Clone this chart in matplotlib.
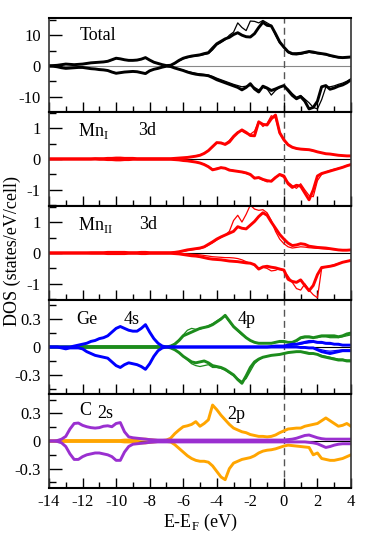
import numpy as np
import matplotlib
matplotlib.use("Agg")
import matplotlib.pyplot as plt
from matplotlib.ticker import MultipleLocator

plt.rcParams['font.family'] = ['Liberation Serif', 'DejaVu Serif']
plt.rcParams['mathtext.fontset'] = 'custom'
plt.rcParams['mathtext.rm'] = 'Liberation Serif'
plt.rcParams['axes.unicode_minus'] = False

# energy grid, -14 .. 4 eV in 0.25 eV steps (73 points)
energy = np.linspace(-14, 4, 73)

# ---- Total (black) ----
tot_up = [0.0, 0.1, 0.2, 0.4, 0.6, 0.5, 0.4, 0.5,
          0.6, 0.8, 1.0, 1.1, 1.2, 1.3, 1.5, 2.0,
          2.5, 2.3, 2.0, 1.8, 1.8, 1.9, 2.2, 2.7,
          1.9, 1.2, 0.8, 0.4, 0.1, 0.2, 0.9, 1.8,
          2.5, 2.9, 3.2, 3.4, 3.6, 4.0, 4.3, 5.8,
          7.2, 8.0, 8.8, 9.3, 10.2, 10.8, 10.0, 9.5,
          9.4, 10.5, 12.5, 14.2, 13.2, 13.0, 10.5, 7.8,
          6.1, 4.6, 4.0, 4.0, 4.1, 4.4, 4.7, 4.5,
          4.2, 4.0, 3.8, 3.4, 3.1, 2.8, 2.7, 2.8,
          2.9]
tot_up_b = [0.0, 0.1, 0.2, 0.4, 0.5, 0.5, 0.4, 0.5,
            0.6, 0.8, 0.9, 1.1, 1.2, 1.3, 1.5, 1.9,
            2.4, 2.3, 2.0, 1.8, 1.8, 1.9, 2.2, 2.6,
            1.9, 1.2, 0.8, 0.4, 0.1, 0.2, 0.8, 1.6,
            2.3, 2.7, 3.0, 3.2, 3.4, 3.7, 4.0, 5.2,
            6.8, 7.6, 8.5, 10.0, 11.0, 14.0, 12.5, 11.5,
            14.6, 14.5, 14.0, 14.8, 14.0, 13.2, 10.0, 7.5,
            6.0, 4.3, 3.7, 3.6, 3.8, 4.1, 4.4, 4.2,
            4.0, 3.8, 3.6, 3.2, 2.9, 2.7, 2.6, 2.7,
            2.8]
tot_dn = [0.0, -0.1, -0.3, -0.6, -0.8, -0.7, -0.6, -0.5,
          -0.5, -0.7, -0.9, -1.0, -1.2, -1.3, -1.5, -2.0,
          -2.4, -2.2, -2.0, -1.9, -1.8, -1.9, -2.2, -2.5,
          -1.6, -1.1, -0.8, -0.4, -0.1, -0.2, -0.7, -1.1,
          -1.5, -2.0, -2.4, -2.7, -2.9, -3.0, -3.2, -3.8,
          -4.5, -5.0, -5.5, -6.0, -6.5, -7.0, -7.8, -7.0,
          -5.8, -7.5, -8.5, -6.6, -7.2, -8.0, -7.5, -6.9,
          -6.4, -8.0, -9.6, -10.7, -10.0, -11.5, -14.0, -13.5,
          -11.5, -6.8, -6.4, -7.6, -7.2, -6.6, -6.2, -5.5,
          -4.5]
tot_dn_b = [0.0, -0.1, -0.3, -0.6, -0.7, -0.7, -0.6, -0.5,
            -0.5, -0.7, -0.9, -1.0, -1.1, -1.3, -1.5, -1.9,
            -2.3, -2.2, -2.0, -1.9, -1.8, -1.9, -2.2, -2.4,
            -1.6, -1.1, -0.8, -0.4, -0.1, -0.2, -0.6, -1.0,
            -1.4, -1.8, -2.1, -2.4, -2.6, -2.8, -3.0, -3.4,
            -4.0, -4.5, -5.0, -5.5, -6.0, -6.4, -6.8, -6.6,
            -6.4, -7.0, -7.8, -7.0, -7.5, -9.5, -8.0, -7.0,
            -6.5, -7.5, -9.0, -10.2, -9.6, -10.8, -12.0, -13.5,
            -14.0, -11.0, -6.9, -6.8, -6.5, -6.0, -5.6, -5.0,
            -4.2]

# ---- Mn_I 3d (red) ----
mn1_up = [0, 0, 0, 0, 0, 0, 0, 0,
          0.0, 0.0, 0.0, 0.01, 0.01, 0.01, 0.02, 0.02,
          0.03, 0.03, 0.02, 0.02, 0.02, 0.01, 0.01, 0.01,
          0.01, 0.01, 0.01, 0.01, 0.01, 0.01, 0.02, 0.03,
          0.04, 0.05, 0.07, 0.09, 0.12, 0.18, 0.27, 0.40,
          0.53, 0.52, 0.47, 0.55, 0.72, 0.85, 0.94, 0.86,
          0.76, 0.75, 1.20, 1.12, 1.10, 1.30, 1.42, 0.85,
          0.62, 0.46, 0.38, 0.34, 0.32, 0.31, 0.30, 0.27,
          0.23, 0.20, 0.17, 0.16, 0.14, 0.12, 0.11, 0.10,
          0.10]
mn1_up_b = [0, 0, 0, 0, 0, 0, 0, 0,
            0.0, 0.0, 0.0, 0.01, 0.01, 0.01, 0.02, 0.02,
            0.03, 0.03, 0.02, 0.02, 0.02, 0.01, 0.01, 0.01,
            0.01, 0.01, 0.01, 0.01, 0.01, 0.01, 0.02, 0.03,
            0.04, 0.05, 0.07, 0.10, 0.13, 0.19, 0.28, 0.42,
            0.52, 0.50, 0.50, 0.60, 0.76, 0.88, 0.90, 0.82,
            0.80, 0.90, 1.22, 1.05, 1.15, 1.40, 1.32, 0.82,
            0.60, 0.45, 0.37, 0.33, 0.31, 0.30, 0.29, 0.26,
            0.23, 0.20, 0.17, 0.16, 0.14, 0.12, 0.11, 0.10,
            0.10]
mn1_dn = [0, 0, 0, 0, 0, 0, 0, 0,
          0, 0, 0, 0, -0.01, -0.01, -0.02, -0.02,
          -0.03, -0.03, -0.02, -0.02, -0.01, -0.01, -0.01, -0.01,
          -0.01, -0.01, -0.01, -0.01, -0.01, -0.01, -0.02, -0.03,
          -0.05, -0.06, -0.08, -0.10, -0.13, -0.18, -0.25, -0.35,
          -0.32, -0.28, -0.30, -0.36, -0.38, -0.40, -0.42, -0.45,
          -0.50, -0.62, -0.60, -0.66, -0.70, -0.72, -0.60, -0.50,
          -0.55, -0.80, -0.92, -0.85, -0.88, -1.10, -1.32, -1.00,
          -0.55, -0.47, -0.43, -0.39, -0.35, -0.31, -0.27, -0.22,
          -0.18]
mn1_dn_b = [0, 0, 0, 0, 0, 0, 0, 0,
            0, 0, 0, 0, -0.01, -0.01, -0.02, -0.02,
            -0.03, -0.03, -0.02, -0.02, -0.01, -0.01, -0.01, -0.01,
            -0.01, -0.01, -0.01, -0.01, -0.01, -0.01, -0.02, -0.03,
            -0.04, -0.05, -0.07, -0.09, -0.12, -0.17, -0.24, -0.33,
            -0.30, -0.27, -0.30, -0.34, -0.37, -0.40, -0.43, -0.47,
            -0.52, -0.60, -0.62, -0.68, -0.74, -0.70, -0.58, -0.52,
            -0.60, -0.75, -0.86, -0.95, -0.80, -1.00, -1.18, -1.22,
            -0.70, -0.50, -0.42, -0.37, -0.33, -0.30, -0.26, -0.21,
            -0.17]

# ---- Mn_II 3d (red) ----
mn2_up = [0, 0, 0, 0, 0, 0, 0, 0,
          0.0, 0.0, 0.01, 0.01, 0.01, 0.01, 0.02, 0.02,
          0.02, 0.02, 0.02, 0.01, 0.01, 0.01, 0.02, 0.02,
          0.01, 0.01, 0.01, 0.01, 0.01, 0.01, 0.02, 0.04,
          0.07, 0.10, 0.12, 0.14, 0.16, 0.20, 0.28, 0.36,
          0.45, 0.52, 0.58, 0.64, 0.70, 0.85, 0.80, 0.78,
          0.90, 1.02, 1.18, 1.30, 1.22, 1.00, 0.80, 0.60,
          0.45, 0.32, 0.24, 0.26, 0.30, 0.28, 0.22, 0.20,
          0.18, 0.17, 0.16, 0.14, 0.12, 0.10, 0.09, 0.09,
          0.10]
mn2_up_b = [0, 0, 0, 0, 0, 0, 0, 0,
            0.0, 0.0, 0.01, 0.01, 0.01, 0.01, 0.02, 0.02,
            0.02, 0.02, 0.02, 0.01, 0.01, 0.01, 0.02, 0.02,
            0.01, 0.01, 0.01, 0.01, 0.01, 0.01, 0.02, 0.03,
            0.05, 0.08, 0.10, 0.12, 0.14, 0.18, 0.25, 0.33,
            0.42, 0.50, 0.58, 0.70, 1.05, 1.22, 1.00, 1.25,
            1.55, 1.42, 1.38, 1.40, 1.30, 1.05, 0.70, 0.45,
            0.30, 0.20, 0.16, 0.18, 0.20, 0.19, 0.17, 0.16,
            0.15, 0.14, 0.13, 0.12, 0.11, 0.10, 0.09, 0.09,
            0.10]
mn2_dn = [0, 0, 0, 0, 0, 0, 0, 0,
          0, 0, -0.01, -0.01, -0.01, -0.01, -0.02, -0.02,
          -0.02, -0.02, -0.02, -0.01, -0.01, -0.01, -0.02, -0.02,
          -0.01, -0.01, -0.01, -0.01, -0.01, -0.01, -0.02, -0.03,
          -0.05, -0.07, -0.09, -0.10, -0.12, -0.15, -0.18, -0.20,
          -0.21, -0.22, -0.24, -0.26, -0.27, -0.28, -0.30, -0.32,
          -0.33, -0.38, -0.52, -0.45, -0.43, -0.46, -0.48, -0.52,
          -0.55, -0.85, -0.92, -0.95, -0.87, -1.05, -1.22, -1.05,
          -0.70, -0.47, -0.45, -0.43, -0.40, -0.35, -0.30, -0.27,
          -0.24]
mn2_dn_b = [0, 0, 0, 0, 0, 0, 0, 0,
            0, 0, -0.01, -0.01, -0.01, -0.01, -0.02, -0.02,
            -0.02, -0.02, -0.02, -0.01, -0.01, -0.01, -0.02, -0.02,
            -0.01, -0.01, -0.01, -0.01, -0.01, -0.01, -0.01, -0.02,
            -0.02, -0.03, -0.04, -0.05, -0.06, -0.08, -0.10, -0.12,
            -0.13, -0.14, -0.15, -0.15, -0.16, -0.18, -0.22, -0.28,
            -0.33, -0.40, -0.50, -0.46, -0.50, -0.58, -0.56, -0.50,
            -0.58, -0.75, -0.95, -1.15, -1.20, -1.00, -1.20, -1.35,
            -1.45, -0.50, -0.45, -0.42, -0.38, -0.34, -0.30, -0.27,
            -0.23]

# ---- Ge 4s (blue) / 4p (green) ----
ge_s_up = [0.0, 0.0, 0.0, 0.0, 0.0, 0.0, 0.01, 0.02,
           0.03, 0.04, 0.06, 0.07, 0.09, 0.10, 0.12, 0.16,
           0.20, 0.22, 0.20, 0.18, 0.17, 0.17, 0.20, 0.24,
           0.16, 0.09, 0.04, 0.01, 0.0, 0.0, 0.0, 0.0,
           0, 0, 0, 0, 0, 0, 0, 0,
           0, 0, 0, 0, 0, 0, 0, 0,
           0.0, 0.0, 0.0, 0.0, 0.0, 0.005, 0.01, 0.01,
           0.01, 0.02, 0.03, 0.03, 0.04, 0.05, 0.06, 0.06,
           0.05, 0.05, 0.04, 0.04, 0.03, 0.03, 0.02, 0.02,
           0.02]
ge_s_up_b = [0.0, 0.0, 0.0, 0.0, 0.0, 0.0, 0.01, 0.02,
             0.03, 0.04, 0.06, 0.07, 0.09, 0.10, 0.12, 0.16,
             0.20, 0.22, 0.20, 0.18, 0.17, 0.17, 0.20, 0.24,
             0.16, 0.09, 0.04, 0.01, 0.0, 0.0, 0.0, 0.0,
             0, 0, 0, 0, 0, 0, 0, 0,
             0, 0, 0, 0, 0, 0, 0, 0,
             0.0, 0.0, 0.0, 0.0, 0.0, 0.005, 0.005, 0.01,
             0.01, 0.015, 0.02, 0.025, 0.03, 0.04, 0.045, 0.05,
             0.045, 0.04, 0.035, 0.03, 0.03, 0.025, 0.02, 0.02,
             0.02]
ge_s_dn = [0.0, 0.0, 0.0, -0.01, -0.02, -0.01, -0.01, -0.01,
           -0.02, -0.05, -0.07, -0.09, -0.10, -0.11, -0.12, -0.16,
           -0.20, -0.22, -0.19, -0.17, -0.18, -0.19, -0.21, -0.24,
           -0.18, -0.10, -0.04, -0.01, 0.0, 0.0, 0.0, 0.0,
           0, 0, 0, 0, 0, 0, 0, 0,
           0, 0, 0, 0, 0, 0, 0, 0,
           0, 0, 0, 0, 0, 0, 0, 0,
           0.0, 0.0, 0.0, 0.0, -0.005, -0.005, -0.01, -0.01,
           -0.03, -0.05, -0.06, -0.07, -0.06, -0.05, -0.04, -0.04,
           -0.04]
ge_s_dn_b = [0.0, 0.0, 0.0, -0.01, -0.02, -0.01, -0.01, -0.01,
             -0.02, -0.05, -0.07, -0.09, -0.10, -0.11, -0.12, -0.16,
             -0.20, -0.22, -0.19, -0.17, -0.18, -0.19, -0.21, -0.24,
             -0.18, -0.10, -0.04, -0.01, 0.0, 0.0, 0.0, 0.0,
             0, 0, 0, 0, 0, 0, 0, 0,
             0, 0, 0, 0, 0, 0, 0, 0,
             0, 0, 0, 0, 0, 0, 0, 0,
             0.0, 0.0, 0.0, 0.0, -0.005, -0.005, -0.01, -0.015,
             -0.02, -0.03, -0.04, -0.045, -0.04, -0.035, -0.03, -0.03,
             -0.03]
ge_p_up = [0, 0, 0, 0, 0, 0, 0, 0,
           0.005, 0.005, 0.005, 0.005, 0.005, 0.005, 0.005, 0.005,
           0.005, 0.005, 0.005, 0.005, 0.005, 0.005, 0.005, 0.005,
           0.005, 0.005, 0.005, 0.005, 0.0, 0.01, 0.03, 0.07,
           0.12, 0.14, 0.16, 0.18, 0.20, 0.21, 0.22, 0.24,
           0.27, 0.30, 0.34, 0.28, 0.22, 0.18, 0.14, 0.10,
           0.07, 0.05, 0.04, 0.04, 0.04, 0.04, 0.05, 0.06,
           0.06, 0.05, 0.05, 0.07, 0.10, 0.11, 0.11, 0.10,
           0.11, 0.12, 0.12, 0.12, 0.12, 0.11, 0.12, 0.14,
           0.15]
ge_p_up_b = [0, 0, 0, 0, 0, 0, 0, 0,
             0.005, 0.005, 0.005, 0.005, 0.005, 0.005, 0.005, 0.005,
             0.005, 0.005, 0.005, 0.005, 0.005, 0.005, 0.005, 0.005,
             0.005, 0.005, 0.005, 0.005, 0.0, 0.01, 0.04, 0.08,
             0.13, 0.18, 0.20, 0.19, 0.19, 0.21, 0.23, 0.25,
             0.28, 0.31, 0.33, 0.27, 0.21, 0.17, 0.13, 0.10,
             0.07, 0.05, 0.04, 0.04, 0.04, 0.04, 0.05, 0.05,
             0.05, 0.05, 0.05, 0.06, 0.09, 0.10, 0.10, 0.10,
             0.10, 0.11, 0.11, 0.10, 0.10, 0.10, 0.11, 0.12,
             0.13]
ge_p_dn = [0, 0, 0, 0, 0, 0, 0, 0,
           -0.005, -0.005, -0.005, -0.005, -0.005, -0.005, -0.005, -0.005,
           -0.005, -0.005, -0.005, -0.005, -0.005, -0.005, -0.005, -0.005,
           -0.005, -0.005, -0.005, -0.005, 0.0, -0.01, -0.03, -0.06,
           -0.10, -0.13, -0.16, -0.17, -0.16, -0.15, -0.17, -0.20,
           -0.21, -0.22, -0.24, -0.27, -0.30, -0.35, -0.39, -0.31,
           -0.22, -0.16, -0.13, -0.11, -0.10, -0.09, -0.085, -0.08,
           -0.07, -0.06, -0.055, -0.05, -0.05, -0.06, -0.07, -0.07,
           -0.08, -0.10, -0.11, -0.12, -0.13, -0.14, -0.14, -0.15,
           -0.15]
ge_p_dn_b = [0, 0, 0, 0, 0, 0, 0, 0,
             -0.005, -0.005, -0.005, -0.005, -0.005, -0.005, -0.005, -0.005,
             -0.005, -0.005, -0.005, -0.005, -0.005, -0.005, -0.005, -0.005,
             -0.005, -0.005, -0.005, -0.005, 0.0, -0.01, -0.03, -0.06,
             -0.10, -0.14, -0.18, -0.20, -0.21, -0.20, -0.19, -0.22,
             -0.22, -0.23, -0.25, -0.28, -0.31, -0.34, -0.37, -0.34,
             -0.26, -0.18, -0.14, -0.11, -0.10, -0.09, -0.085, -0.08,
             -0.07, -0.06, -0.05, -0.05, -0.05, -0.055, -0.06, -0.07,
             -0.075, -0.09, -0.10, -0.11, -0.12, -0.13, -0.13, -0.14,
             -0.14]

# ---- C 2s (purple) / 2p (orange) ----
c_s_up = [0.0, 0.0, 0.005, 0.02, 0.05, 0.13, 0.19, 0.195,
          0.17, 0.155, 0.145, 0.14, 0.145, 0.16, 0.165, 0.155,
          0.19, 0.20, 0.10, 0.045, 0.035, 0.03, 0.025, 0.02,
          0.015, 0.012, 0.01, 0.01, 0.01, 0.01, 0.01, 0.01,
          0.01, 0.01, 0.01, 0.01, 0.01, 0.01, 0.01, 0.01,
          0.01, 0.01, 0.01, 0.01, 0.01, 0.01, 0.01, 0.01,
          0.01, 0.01, 0.01, 0.01, 0.01, 0.01, 0.01, 0.01,
          0.01, 0.015, 0.02, 0.03, 0.045, 0.06, 0.065, 0.05,
          0.035, 0.025, 0.02, 0.02, 0.02, 0.02, 0.02, 0.02,
          0.02]
c_s_dn = [0.0, 0.0, -0.005, -0.02, -0.06, -0.14, -0.20, -0.20,
          -0.17, -0.15, -0.14, -0.13, -0.13, -0.14, -0.15, -0.17,
          -0.21, -0.21, -0.12, -0.06, -0.035, -0.03, -0.025, -0.02,
          -0.015, -0.012, -0.01, -0.01, -0.01, -0.01, -0.01, -0.01,
          -0.01, -0.01, -0.01, -0.01, -0.01, -0.01, -0.01, -0.01,
          -0.01, -0.01, -0.01, -0.01, -0.01, -0.01, -0.01, -0.01,
          -0.01, -0.01, -0.01, -0.01, -0.01, -0.01, -0.01, -0.01,
          -0.01, -0.01, -0.01, -0.01, -0.01, -0.01, -0.015, -0.02,
          -0.03, -0.05, -0.07, -0.06, -0.045, -0.035, -0.03, -0.03,
          -0.03]
c_p_up = [0.0, 0.0, 0.0, 0.005, 0.005, 0.005, 0.005, 0.005,
          0.005, 0.005, 0.005, 0.005, 0.005, 0.005, 0.005, 0.005,
          0.005, 0.005, 0.01, 0.01, 0.01, 0.015, 0.02, 0.02,
          0.015, 0.01, 0.005, 0.005, 0.01, 0.03, 0.08, 0.12,
          0.155, 0.165, 0.18, 0.21, 0.16, 0.19, 0.23, 0.39,
          0.34, 0.28, 0.23, 0.18, 0.14, 0.12, 0.10, 0.09,
          0.07, 0.06, 0.05, 0.05, 0.045, 0.05, 0.065, 0.09,
          0.11, 0.13, 0.135, 0.14, 0.14, 0.16, 0.17, 0.18,
          0.19, 0.22, 0.25, 0.22, 0.19, 0.16, 0.17, 0.19,
          0.16]
c_p_dn = [0.0, 0.0, 0.0, -0.005, -0.005, -0.005, -0.005, -0.005,
          -0.005, -0.005, -0.005, -0.005, -0.005, -0.005, -0.005, -0.005,
          -0.005, -0.005, -0.01, -0.01, -0.01, -0.015, -0.02, -0.02,
          -0.015, -0.01, -0.005, -0.005, -0.005, -0.01, -0.04, -0.08,
          -0.12, -0.16, -0.19, -0.21, -0.22, -0.22, -0.23, -0.27,
          -0.33, -0.39, -0.42, -0.30, -0.24, -0.22, -0.20, -0.19,
          -0.18, -0.16, -0.13, -0.11, -0.10, -0.095, -0.085, -0.07,
          -0.055, -0.045, -0.05, -0.055, -0.06, -0.065, -0.07, -0.15,
          -0.13, -0.19, -0.20, -0.21, -0.21, -0.20, -0.19, -0.17,
          -0.15]

RED = '#ff0000'
BLUE = '#0000ff'
GREEN = '#1c8c1c'
PURPLE = '#9a2fd0'
ORANGE = '#ffa500'
THICK = 2.1
THIN = 0.9

panels = [
    dict(ylim=(-15.0, 15.6), major=10, minor=5, zero='#888888',
         lines=[(tot_up_b, 'black', THIN), (tot_dn_b, 'black', THIN),
                (tot_up, 'black', THICK), (tot_dn, 'black', THICK)],
         labels=[('Total', -12.15, 10.0)]),
    dict(ylim=(-1.52, 1.52), major=1, minor=0.5, zero='black',
         lines=[(mn1_up_b, RED, THIN), (mn1_dn_b, RED, THIN),
                (mn1_up, RED, THICK), (mn1_dn, RED, THICK)],
         labels=[('Mn$_\\mathregular{I}$', -12.25, 0.92), ('3d', -8.7, 0.92)]),
    dict(ylim=(-1.52, 1.52), major=1, minor=0.5, zero='black',
         lines=[(mn2_up_b, RED, THIN), (mn2_dn_b, RED, THIN),
                (mn2_up, RED, THICK), (mn2_dn, RED, THICK)],
         labels=[('Mn$_\\mathregular{II}$', -12.25, 0.92), ('3d', -8.6, 0.92)]),
    dict(ylim=(-0.505, 0.505), major=0.3, minor=0.15, zero='black',
         lines=[(ge_p_up_b, GREEN, THIN), (ge_p_dn_b, GREEN, THIN),
                (ge_p_up, GREEN, THICK), (ge_p_dn, GREEN, THICK),
                (ge_s_up_b, BLUE, THIN), (ge_s_dn_b, BLUE, THIN),
                (ge_s_up, BLUE, THICK), (ge_s_dn, BLUE, THICK)],
         labels=[('Ge', -12.35, 0.3), ('4s', -9.55, 0.3), ('4p', -2.75, 0.3)]),
    dict(ylim=(-0.51, 0.51), major=0.3, minor=0.15, zero='black',
         lines=[(c_p_up, ORANGE, THICK), (c_p_dn, ORANGE, THICK),
                (c_s_up, PURPLE, THICK), (c_s_dn, PURPLE, THICK)],
         labels=[('C', -12.2, 0.33), ('2s', -11.1, 0.3), ('2p', -3.35, 0.29)]),
]

fig, axes = plt.subplots(5, 1, sharex=True, figsize=(3.74, 5.40), dpi=100)
fig.subplots_adjust(left=0.131, right=0.9385, top=0.9667, bottom=0.0963, hspace=0)

for ax, p in zip(axes, panels):
    ax.axhline(0, color=p['zero'], lw=0.8, zorder=1)
    ax.axvline(0, color='#555555', lw=1.0, ls=(0, (5, 3)), zorder=1)
    for vals, col, lw in p['lines']:
        ax.plot(energy, vals, color=col, lw=lw, zorder=2)
    for txt, x, y in p['labels']:
        ax.text(x, y, txt, fontsize=13, ha='left', va='center')
    ax.set_ylim(*p['ylim'])
    ax.yaxis.set_major_locator(MultipleLocator(p['major']))
    ax.yaxis.set_minor_locator(MultipleLocator(p['minor']))
    ax.set_xlim(-14, 4)
    ax.xaxis.set_major_locator(MultipleLocator(2))
    ax.xaxis.set_minor_locator(MultipleLocator(1))
    ax.tick_params(axis='y', which='major', direction='in', length=9.5, width=1.0,
                   labelsize=12, pad=6, right=False)
    ax.tick_params(axis='y', which='minor', direction='in', length=5, width=1.0, right=False)
    ax.tick_params(axis='x', which='major', direction='in', length=7, width=1.0,
                   labelsize=12, pad=4, top=False)
    ax.tick_params(axis='x', which='minor', direction='in', length=4, width=1.0, top=False)
    for side in ['top', 'bottom']:
        ax.spines[side].set_linewidth(1.5)
    for side in ['left', 'right']:
        ax.spines[side].set_linewidth(1.2)
        ax.spines[side].set_color('#333333')

axes[0].set_yticks([-10, 0, 10])
axes[0].set_yticklabels(['-10', '0', '10'])
for ax in axes[1:3]:
    ax.set_yticks([-1, 0, 1])
    ax.set_yticklabels(['-1', '0', '1'])
for ax in axes[3:]:
    ax.set_yticks([-0.3, 0, 0.3])
    ax.set_yticklabels(['-0.3', '0', '0.3'])

axes[-1].set_xticks([-14, -12, -10, -8, -6, -4, -2, 0, 2, 4])
axes[-1].set_xticklabels(['-14', '-12', '-10', '-8', '-6', '-4', '-2', '0', '2', '4'])
axes[-1].set_xlabel('E-E$_\\mathregular{F}$ (eV)', fontsize=13, labelpad=2)

fig.text(0.032, 0.535, 'DOS (states/eV/cell)', rotation=90, fontsize=13,
         ha='center', va='center')

fig.savefig('out.png', dpi=100)
